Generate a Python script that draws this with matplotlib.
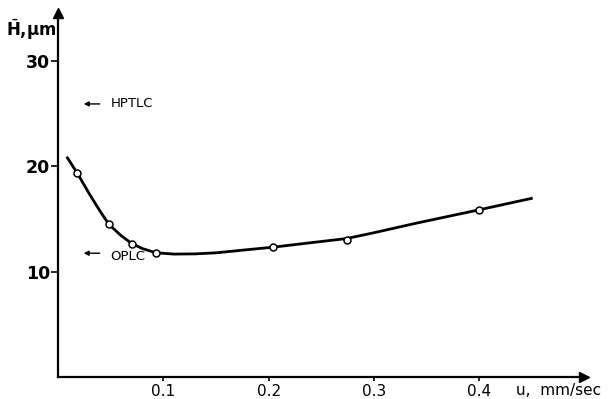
import matplotlib
matplotlib.use("Agg")
import matplotlib.pyplot as plt

# measured points (open circles)
u_points = [0.018, 0.048, 0.070, 0.093, 0.204, 0.274, 0.400]
h_points = [19.35, 14.5, 12.67, 11.8, 12.33, 13.0, 15.87]

# hand-drawn curve
curve_u = [0.008, 0.018, 0.030, 0.040, 0.048, 0.060, 0.070, 0.080, 0.093,
           0.110, 0.130, 0.150, 0.180, 0.204, 0.236, 0.274, 0.300, 0.340,
           0.400, 0.451]
curve_h = [20.9, 19.35, 17.3, 15.7, 14.5, 13.4, 12.67, 12.2, 11.8,
           11.68, 11.7, 11.8, 12.1, 12.33, 12.71, 13.15, 13.7, 14.6,
           15.87, 16.98]

x_ticks = [0.1, 0.2, 0.3, 0.4]
x_ticklabels = ['0.1', '0.2', '0.3', '0.4']
y_ticks = [10, 20, 30]

# reference marks (arrows on the left)
ref_names = ['HPTLC', 'OPLC']
ref_h = [25.9, 11.76]

fig = plt.figure(figsize=(6.08, 3.99), dpi=100)
ax = fig.add_axes([0.0959, 0.0541, 0.865, 0.913])
ax.set_xlim(0, 0.5)
ax.set_ylim(0, 34.5)

ax.plot(curve_u, curve_h, color='black', lw=2.0, solid_capstyle='butt', zorder=2)
ax.plot(u_points, h_points, 'o', ms=5, mfc='white', mec='black', mew=1.1, zorder=3)

for s in ['top', 'right']:
    ax.spines[s].set_visible(False)
for s in ['left', 'bottom']:
    ax.spines[s].set_linewidth(1.6)

# axis arrowheads
ax.plot(1, 0, '>', color='black', ms=7, transform=ax.transAxes, clip_on=False)
ax.plot(0, 1, '^', color='black', ms=7, transform=ax.transAxes, clip_on=False)

ax.set_xticks(x_ticks)
ax.set_xticklabels(x_ticklabels, fontsize=11)
ax.set_yticks(y_ticks)
ax.tick_params(axis='y', direction='out', length=5, width=1.2, pad=1, labelsize=12.5)
ax.tick_params(axis='x', direction='out', length=3, width=1.2, pad=2)
for lab in ax.get_yticklabels():
    lab.set_fontweight('bold')

ax.text(-0.0015, 32.9, r'$\bar{\mathbf{H}}$,μm', ha='right', va='center',
        fontsize=12, fontweight='bold')
ax.text(0.435, -1.2, 'u,  mm/sec', ha='left', va='center', fontsize=11)

for name, h in zip(ref_names, ref_h):
    ax.annotate('', xy=(0.0215, h), xytext=(0.042, h),
                arrowprops=dict(arrowstyle='-|>', color='black', lw=1.0,
                                mutation_scale=7))
    dy = -0.35 if name == 'OPLC' else 0.0
    ax.text(0.0495, h + dy, name, ha='left', va='center', fontsize=9.5)

plt.savefig('out.png', dpi=100, facecolor='white')
